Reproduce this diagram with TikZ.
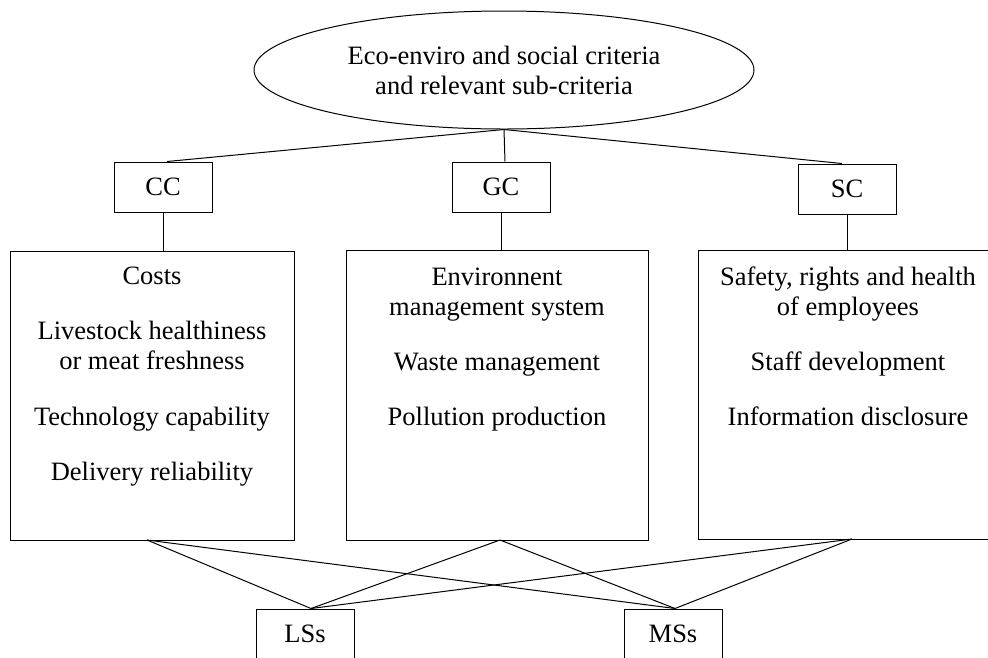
\documentclass[tikz,border=0pt]{standalone}
\usepackage{fontspec}
\setmainfont{Liberation Serif}
\usetikzlibrary{shapes.geometric}
\begin{document}
\begin{tikzpicture}[x=1pt,y=-1pt, line width=1pt,
  every node/.style={font=\fontsize{26.5}{30}\selectfont},
  small/.style={draw, rectangle, minimum width=98pt, minimum height=50pt, inner sep=0pt},
  bigbox/.style={draw, rectangle, inner sep=0pt},
  item/.style={anchor=base, inner sep=0pt},
  link/.style={line width=1pt}]
\useasboundingbox (0,0) rectangle (988,657);

% top ellipse
\node[draw, ellipse, minimum width=500pt, minimum height=118pt, inner sep=0pt, align=center] (top) at (504,70)
  {Eco-enviro and social criteria\\and relevant sub-criteria};

% criteria boxes
\node[small] (cc) at (163,187) {CC};
\node[small] (gc) at (501,187) {GC};
\node[small] (sc) at (847,189) {SC};

% big boxes
\node[bigbox, minimum width=284pt, minimum height=289pt] (ccbox) at (152,395.5) {};
\node[bigbox, minimum width=302pt, minimum height=290pt] (gcbox) at (497,395) {};
\node[bigbox, minimum width=300pt, minimum height=289pt] (scbox) at (848,394.5) {};

% sub-criteria texts
\node[item] (c1) at (152,284) {Costs};
\node[item] (c2) at (152,339) {Livestock healthiness};
\node[item] (c3) at (152,369) {or meat freshness};
\node[item] (c4) at (152,425) {Technology capability};
\node[item] (c5) at (152,480) {Delivery reliability};

\node[item] (g1) at (497,285) {Environnent};
\node[item] (g2) at (497,315) {management system};
\node[item] (g3) at (497,370) {Waste management};
\node[item] (g4) at (497,425) {Pollution production};

\node[item] (s1) at (848,285) {Safety, rights and health};
\node[item] (s2) at (848,315) {of employees};
\node[item] (s3) at (848,370) {Staff development};
\node[item] (s4) at (848,425) {Information disclosure};

% alternatives
\node[small] (ls) at (305,634) {LSs};
\node[small] (ms) at (673,634) {MSs};

% connection points
\coordinate (ccTop) at ([xshift=4pt]cc.north);
\coordinate (gcTop) at ([xshift=4pt]gc.north);
\coordinate (scTop) at ([xshift=-5pt]sc.north);
\coordinate (cb) at (147,540);
\coordinate (gb) at (500,540);
\coordinate (sb) at (852,539);
\coordinate (lt) at ([xshift=6pt]ls.north);
\coordinate (mt) at ([xshift=2pt]ms.north);

% connectors
\draw[link] (top.south) -- (ccTop);
\draw[link] (top.south) -- (gcTop);
\draw[link] (top.south) -- (scTop);
\draw[link] (cc.south) -- (cc.south |- ccbox.north);
\draw[link] (gc.south) -- (gc.south |- gcbox.north);
\draw[link] (sc.south) -- (sc.south |- scbox.north);

\draw[link] (cb) -- (lt);
\draw[link] (cb) -- (mt);
\draw[link] (gb) -- (lt);
\draw[link] (gb) -- (mt);
\draw[link] (sb) -- (lt);
\draw[link] (sb) -- (mt);
\end{tikzpicture}
\end{document}
